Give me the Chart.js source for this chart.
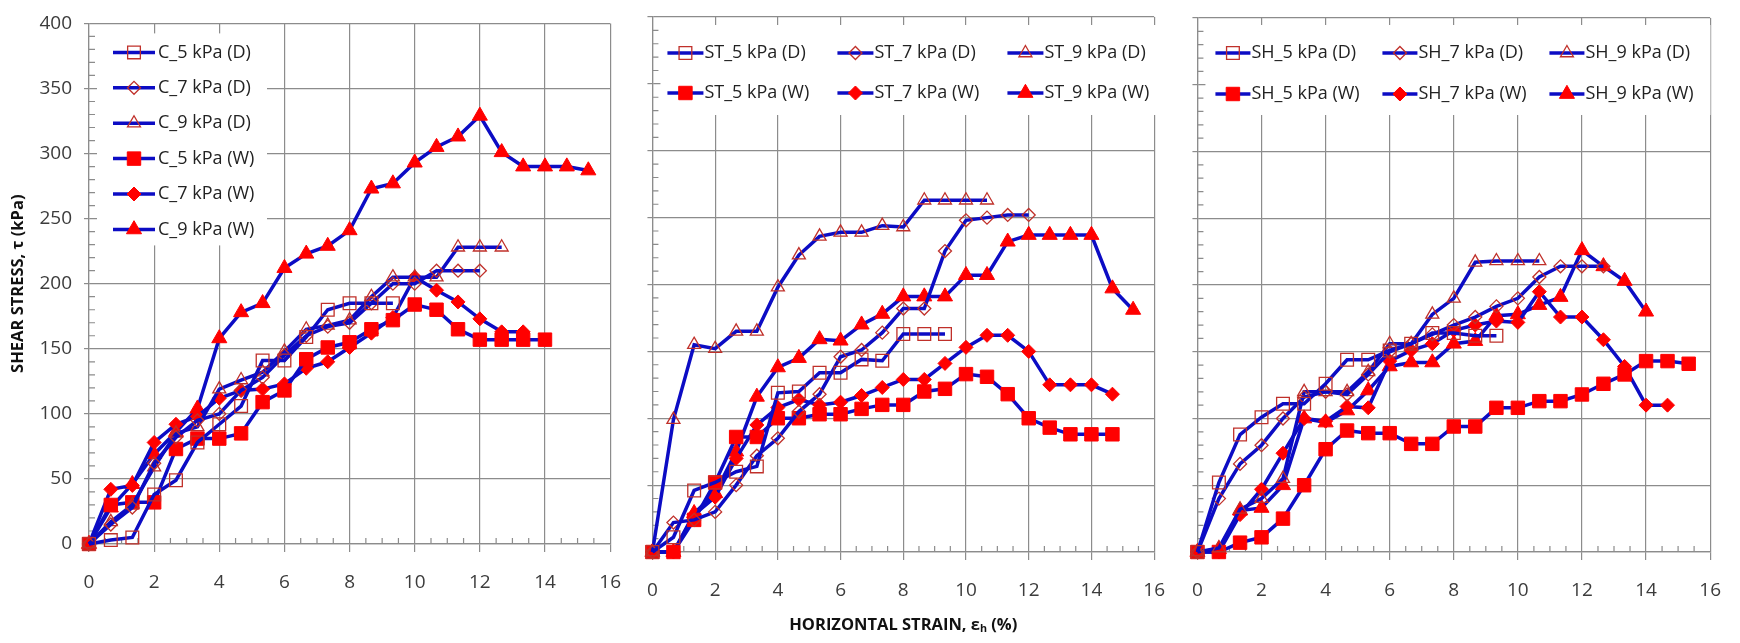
<!DOCTYPE html>
<html>
<head>
<meta charset="utf-8">
<script src="https://cdn.jsdelivr.net/npm/chart.js@4.4.1/dist/chart.umd.min.js"></script>
<style>
  html, body { margin: 0; padding: 0; background: #fff; }
  body { width: 1740px; height: 643px; position: relative; overflow: hidden; }
  canvas { position: absolute; top: 0; }
</style>
</head>
<body>
<canvas id="panelC"  width="640" height="643" style="left:0px"></canvas>
<canvas id="panelST" width="556" height="643" style="left:628px"></canvas>
<canvas id="panelSH" width="567" height="643" style="left:1173px"></canvas>

<script>
/* ── DATA ─────────────────────────────────────────────── */
// horizontal strain steps, %
const strainSteps = [0, 0.67, 1.33, 2, 2.67, 3.33, 4, 4.67, 5.33, 6, 6.67, 7.33,
                     8, 8.67, 9.33, 10, 10.67, 11.33, 12, 12.67, 13.33, 14, 14.67, 15.33];
const xTicks = [0, 2, 4, 6, 8, 10, 12, 14, 16];
const yTicks = [0, 50, 100, 150, 200, 250, 300, 350, 400];

// shear stress, kPa  (C)
const cDry5 = [0, 3, 5, 38, 49, 78, 92, 106, 141, 141, 159, 180, 185, 185, 185];
const cDry7 = [0, 15, 28, 62, 82, 95, 100, 118, 128, 145, 160, 167, 170, 185, 200, 200, 210, 210, 210];
const cDry9 = [0, 17, 30, 59, 85, 90, 119, 126, 132, 148, 165, 168, 172, 190, 205, 205, 205, 228, 228, 228];
const cWet5 = [0, 30, 32, 32, 73, 81, 81, 85, 109, 118, 142, 151, 155, 165, 172, 184, 180, 165, 157, 157, 157, 157];
const cWet7 = [0, 42, 45, 78, 92, 98, 112, 118, 119, 123, 135, 140, 151, 162, 174, 205, 195, 186, 173, 163, 163];
const cWet9 = [0, 28, 46, 69, 86, 104, 158, 178, 185, 212, 223, 229, 241, 273, 277, 293, 305, 313, 329, 301, 290, 290, 290, 287];

// ST
const stDry5 = [0, 11, 46, 52, 60, 64, 119, 120, 134, 134, 144, 143, 163, 163, 163];
const stDry7 = [0, 22, 24, 30, 50, 72, 85, 105, 118, 146, 151, 164, 182, 182, 225, 248, 250, 252, 252];
const stDry9 = [0, 99, 155, 152, 165, 165, 198, 222, 236, 239, 239, 244, 243, 263, 263, 263, 263];
const stWet5 = [0, 0, 24, 52, 86, 86, 100, 100, 103, 103, 107, 110, 110, 120, 122, 133, 131, 118, 100, 93, 88, 88, 88];
const stWet7 = [0, 0, 28, 41, 70, 95, 108, 114, 110, 112, 117, 123, 129, 129, 141, 153, 162, 162, 150, 125, 125, 125, 118];
const stWet9 = [0, 0, 29, 44, 75, 116, 138, 145, 159, 158, 170, 178, 191, 191, 191, 207, 207, 232, 237, 237, 237, 237, 197, 181];

// SH
const shDry5 = [0, 52, 88, 101, 111, 111, 126, 144, 144, 151, 156, 164, 164, 162, 162];
const shDry7 = [0, 40, 66, 80, 100, 116, 120, 118, 133, 150, 156, 163, 170, 176, 184, 190, 206, 214, 214, 214];
const shDry9 = [0, 3, 32, 40, 55, 120, 120, 120, 135, 156, 156, 178, 190, 217, 218, 218, 218];
const shWet5 = [0, 0, 7, 11, 25, 50, 77, 91, 89, 89, 81, 81, 94, 94, 108, 108, 113, 113, 118, 126, 133, 143, 143, 141];
const shWet7 = [0, 0, 28, 47, 74, 100, 98, 109, 108, 143, 151, 156, 166, 170, 173, 172, 195, 176, 176, 159, 139, 110, 110];
const shWet9 = [0, 2, 31, 33, 50, 100, 97, 106, 121, 139, 142, 142, 156, 158, 177, 178, 185, 191, 226, 214, 203, 180];

/* ── STYLE ────────────────────────────────────────────── */
const LINE_BLUE  = '#0c0cc4';
const RED        = '#ff0000';
const HOLLOW_RED = '#c0302a';
const GRID       = '#8c8c8c';
const TICK_COL   = '#3c3c3c';
const TICK_FONT  = { family: "'Open Sans', sans-serif", size: 19 };
const TITLE_FONT = { family: "'Open Sans', sans-serif", size: 16.5, weight: 'bold' };
const LEGEND_FONT = "18px 'Open Sans', sans-serif";

const markerRadius = {
  filled: { rect: 9.5, rectRot: 7, triangle: 8.7 },
  hollow: { rect: 9,   rectRot: 6.5, triangle: 7.5 }
};

function series(label, values, style, filled) {
  return {
    label,
    data: values.map((v, i) => ({ x: strainSteps[i], y: v })),
    borderColor: LINE_BLUE, borderWidth: 3.5,
    pointStyle: style,
    pointRadius: markerRadius[filled ? 'filled' : 'hollow'][style],
    pointBackgroundColor: filled ? RED : 'rgba(0,0,0,0)',
    pointBorderColor: filled ? RED : HOLLOW_RED,
    pointBorderWidth: filled ? 1 : 1.3,
    tension: 0, fill: false, clip: false
  };
}

function soilSeries(prefix, d5, d7, d9, w5, w7, w9) {
  return [
    series(prefix + '_5 kPa (D)', d5, 'rect', false),
    series(prefix + '_7 kPa (D)', d7, 'rectRot', false),
    series(prefix + '_9 kPa (D)', d9, 'triangle', false),
    series(prefix + '_5 kPa (W)', w5, 'rect', true),
    series(prefix + '_7 kPa (W)', w7, 'rectRot', true),
    series(prefix + '_9 kPa (W)', w9, 'triangle', true)
  ];
}

/* ── PLUGINS ──────────────────────────────────────────── */
// small inside ticks between the gridlines
const minorTicks = {
  id: 'minorTicks',
  beforeDatasetsDraw(chart) {
    const { ctx, chartArea: a, scales: { x, y } } = chart;
    ctx.save();
    ctx.strokeStyle = GRID; ctx.lineWidth = 1.2;
    ctx.beginPath();
    for (let i = 0; i < xTicks.length - 1; i++) {
      [0.5, 1, 1.5].forEach(f => {
        const px = x.getPixelForValue(xTicks[i] + f);
        ctx.moveTo(px, a.bottom); ctx.lineTo(px, a.bottom - 6);
      });
    }
    for (let i = 0; i < yTicks.length - 1; i++) {
      [10, 20, 30, 40].forEach(f => {
        const py = y.getPixelForValue(yTicks[i] + f);
        ctx.moveTo(a.left, py); ctx.lineTo(a.left + 6, py);
      });
    }
    ctx.stroke();
    ctx.restore();
  }
};

// legend boxed inside the plot, like the spreadsheet one
const boxLegend = {
  id: 'boxLegend',
  afterDatasetsDraw(chart, args, o) {
    const { ctx, chartArea: a } = chart;
    ctx.save();
    ctx.fillStyle = '#fff';
    ctx.fillRect(a.left + o.box[0], a.top + o.box[1], o.box[2], o.box[3]);
    ctx.font = LEGEND_FONT;
    ctx.textBaseline = 'middle';
    chart.data.datasets.forEach((ds, i) => {
      const col = i % o.cols, row = Math.floor(i / o.cols);
      const x0 = a.left + o.x + col * o.colW;
      const y0 = a.top + o.y + row * o.rowH;
      ctx.strokeStyle = ds.borderColor; ctx.lineWidth = ds.borderWidth;
      ctx.beginPath(); ctx.moveTo(x0, y0); ctx.lineTo(x0 + o.lineLen, y0); ctx.stroke();
      ctx.fillStyle = ds.pointBackgroundColor;
      ctx.strokeStyle = ds.pointBorderColor; ctx.lineWidth = ds.pointBorderWidth;
      Chart.helpers.drawPoint(ctx, {
        pointStyle: ds.pointStyle, radius: ds.pointRadius, rotation: 0, borderWidth: ds.pointBorderWidth
      }, x0 + o.lineLen / 2, y0);
      ctx.fillStyle = '#222';
      ctx.fillText(ds.label, x0 + o.lineLen + o.gap, y0);
    });
    ctx.restore();
  }
};

/* ── CHART BUILDER ────────────────────────────────────── */
function buildPanel(id, datasets, p) {
  return new Chart(document.getElementById(id), {
    type: 'line',
    data: { datasets },
    options: {
      responsive: false, animation: false, events: [],
      layout: { padding: p.padding },
      plugins: { legend: { display: false }, tooltip: { enabled: false }, boxLegend: p.legend },
      scales: {
        x: {
          type: 'linear', min: 0, max: 16,
          afterBuildTicks: s => { s.ticks = xTicks.map(v => ({ value: v })); },
          ticks: { padding: 19, color: TICK_COL, font: TICK_FONT, maxRotation: 0, autoSkip: false },
          grid: { color: GRID, lineWidth: 1.2, tickLength: 8 },
          border: { color: GRID, width: 1.2 },
          title: p.xTitle
            ? { display: true, text: p.xTitle, color: '#111', font: TITLE_FONT, padding: { top: 0, bottom: 5 } }
            : { display: false },
          afterFit: s => { s.height = p.xHeight; }
        },
        y: {
          type: 'linear', min: 0, max: 400,
          afterBuildTicks: s => { s.ticks = yTicks.map(v => ({ value: v })); },
          ticks: { display: p.yLabels, padding: 12, color: TICK_COL, font: TICK_FONT },
          grid: { color: GRID, lineWidth: 1.2, tickLength: 5 },
          border: { color: GRID, width: 1.2 },
          title: p.yTitle
            ? { display: true, text: p.yTitle, color: '#111', font: TITLE_FONT, padding: { top: 8, bottom: 0 } }
            : { display: false },
          afterFit: s => { s.width = p.yWidth; }
        }
      }
    },
    plugins: [minorTicks, boxLegend]
  });
}

buildPanel('panelC', soilSeries('C', cDry5, cDry7, cDry9, cWet5, cWet7, cWet9), {
  padding: { left: 0, right: 20, top: 13, bottom: 0 },
  xHeight: 99, yWidth: 89, yLabels: true,
  yTitle: 'SHEAR STRESS, \u03c4 (kPa)',
  legend: { cols: 1, x: 24, y: 29, colW: 0, rowH: 35.4, lineLen: 42, gap: 3, box: [8, 10, 170, 212] }
});

buildPanel('panelST', soilSeries('ST', stDry5, stDry7, stDry9, stWet5, stWet7, stWet9), {
  padding: { left: 0, right: 17, top: 17, bottom: 3 },
  xHeight: 88, yWidth: 15, yLabels: false,
  xTitle: 'HORIZONTAL STRAIN, \u03b5\u2095 (%)',
  legend: { cols: 3, x: 15, y: 36, colW: 170, rowH: 40, lineLen: 36, gap: 1, box: [8, 8, 500, 90] }
});

buildPanel('panelSH', soilSeries('SH', shDry5, shDry7, shDry9, shWet5, shWet7, shWet9), {
  padding: { left: 0, right: 28, top: 18, bottom: 0 },
  xHeight: 91, yWidth: 15, yLabels: false,
  legend: { cols: 3, x: 18, y: 35, colW: 167, rowH: 41, lineLen: 35, gap: 1, box: [8, 7, 505, 90] }
});
</script>
</body>
</html>
